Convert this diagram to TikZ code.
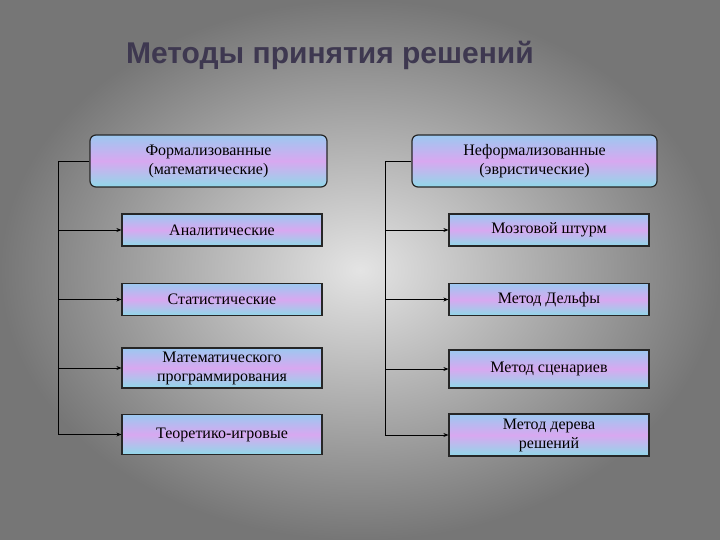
\documentclass[tikz,border=0pt]{standalone}
\usepackage{fontspec}
\setmainfont{Liberation Serif}
\newfontfamily\titlefont{Liberation Sans}
\usetikzlibrary{arrows.meta}
\definecolor{bgin}{HTML}{E4E4E4}
\definecolor{bgout}{HTML}{767676}
\definecolor{bxblue}{HTML}{9CC8F0}
\definecolor{bxpink}{HTML}{D8A8F0}
\definecolor{bxcyan}{HTML}{90D8E8}
\definecolor{ttl}{HTML}{3E3850}
\tikzset{
  box/.style={draw=black!85, line width=1.2pt, top color=bxblue, bottom color=bxcyan, middle color=bxpink, font=\fontsize{16}{19}\selectfont, align=center, inner sep=1pt},
  bigbox/.style={box, rounded corners=6pt, minimum width=237pt, minimum height=52pt},
  rowbox/.style={box, minimum width=200pt, minimum height=32pt},
  link/.style={black, line width=0.8pt},
  arr/.style={link, -{Stealth[length=5pt,width=4pt]}}
}
\begin{document}
\begin{tikzpicture}[x=1pt,y=-1pt]
\useasboundingbox (0,0) rectangle (720,540);
\shade[inner color=bgin, outer color=bgout] (0,0) rectangle (720,540);
\node[font=\titlefont\bfseries\fontsize{30}{32}\selectfont, text=ttl] (title) at (330,55) {Методы принятия решений};
\node[bigbox] (F) at (208.5,161) {Формализованные\\(математические)};
\node[bigbox, minimum width=245pt] (N) at (534.5,161) {Неформализованные\\(эвристические)};
\node[rowbox] (L1) at (222,230) {Аналитические};
\node[rowbox] (L2) at (222,299.5) {Статистические};
\node[rowbox, minimum height=40pt] (L3) at (222,368) {Математического\\программирования};
\node[rowbox, minimum height=40pt] (L4) at (222,434.5) {Теоретико-игровые};
\node[rowbox] (R1) at (549,230) {Мозговой штурм};
\node[rowbox] (R2) at (549,299.5) {Метод  Дельфы};
\node[rowbox, minimum height=38pt] (R3) at (549,369) {Метод  сценариев};
\node[rowbox, minimum height=42pt] (R4) at (549,435) {Метод  дерева\\решений};
\coordinate (lt) at (58,161);
\coordinate (lb) at (58,434.5);
\coordinate (rt) at (385,161);
\coordinate (rb) at (385,435);
\draw[link] (F.west) -- (lt) -- (lb);
\draw[link] (N.west) -- (rt) -- (rb);
\foreach \n in {L1,L2,L3,L4} \draw[arr] (lt |- \n.west) -- (\n.west);
\foreach \n in {R1,R2,R3,R4} \draw[arr] (rt |- \n.west) -- (\n.west);
\end{tikzpicture}
\end{document}
